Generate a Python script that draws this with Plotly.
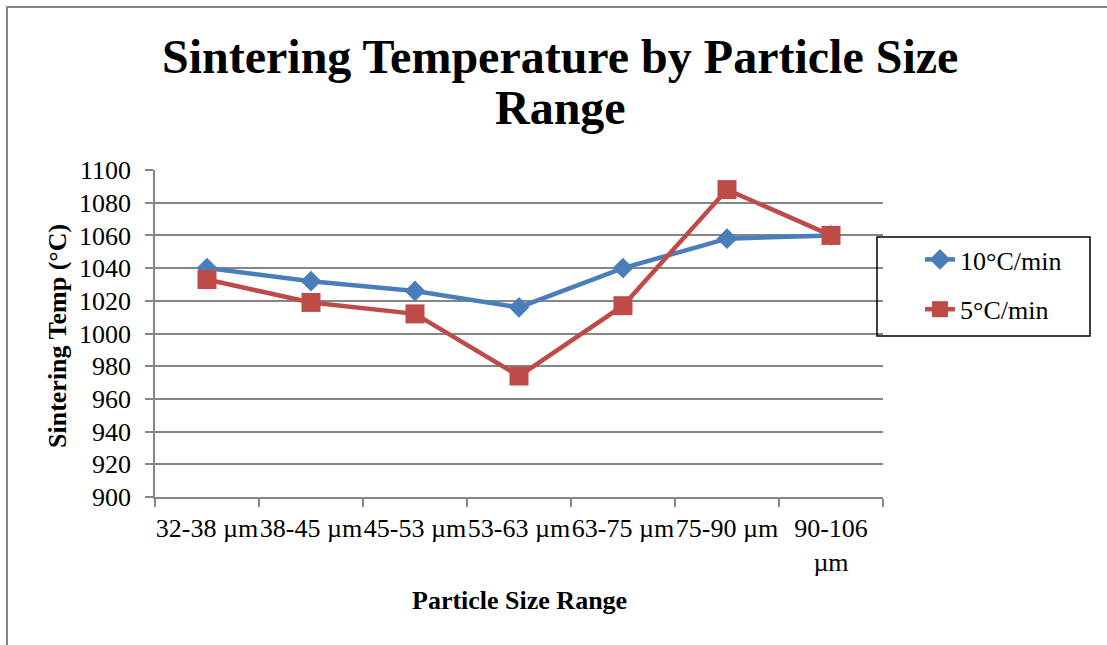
import plotly.graph_objects as go

# Particle size bins and measured sintering temperatures (°C)
size_ranges = ["32-38 µm", "38-45 µm", "45-53 µm", "53-63 µm",
               "63-75 µm", "75-90 µm", "90-106 µm"]
size_tick_labels = ["32-38 µm", "38-45 µm", "45-53 µm", "53-63 µm",
                    "63-75 µm", "75-90 µm", "90-106<br>µm"]
rate_10 = [1040, 1032, 1026, 1016, 1040, 1058, 1060]
rate_5 = [1033, 1019, 1012, 974, 1017, 1088, 1060]
y_ticks = list(range(900, 1101, 20))

W, H = 1107, 645
L, R, T, B = 155, 883, 170, 497  # plot-area pixel box


def px(x):
    return (x - L) / (R - L)


def py(y):
    return (B - y) / (B - T)


FONT = "Liberation Serif, Times New Roman, serif"
BLUE = "#4A7EBB"
RED = "#BE4B48"
GRID = "#868686"

fig = go.Figure()
fig.add_trace(go.Scatter(
    x=size_ranges, y=rate_10, name="10°C/min", mode="lines+markers",
    line=dict(color=BLUE, width=4.5),
    marker=dict(symbol="diamond", size=16, color=BLUE),
    legendgroup="a",
))
fig.add_trace(go.Scatter(
    x=size_ranges, y=rate_5, name="5°C/min", mode="lines+markers",
    line=dict(color=RED, width=4.5),
    marker=dict(symbol="square", size=19, color=RED),
    legendgroup="b",
))

fig.update_layout(
    width=W, height=H,
    margin=dict(l=L, r=W - R, t=T, b=H - B, pad=0),
    paper_bgcolor="white", plot_bgcolor="white",
    font=dict(family=FONT, size=26, color="black"),
    showlegend=True,
    legend=dict(
        x=px(920), y=py(236), xanchor="left", yanchor="top",
        bgcolor="rgba(0,0,0,0)", borderwidth=0,
        font=dict(family=FONT, size=26, color="black"),
        traceorder="grouped", tracegroupgap=13,
    ),
    xaxis=dict(
        type="category", categoryorder="array", categoryarray=size_ranges,
        range=[-0.5, len(size_ranges) - 0.5],
        tickmode="array", tickvals=size_ranges, ticktext=size_tick_labels,
        tickangle=0, ticklabelstandoff=7,
        tickson="boundaries", ticks="outside", ticklen=8, tickwidth=1.5,
        tickcolor=GRID, showgrid=False, showline=True, linecolor=GRID,
        linewidth=1.5, tickfont=dict(family=FONT, size=26, color="black"),
        zeroline=False, fixedrange=True,
    ),
    yaxis=dict(
        range=[900, 1100], tickmode="array", tickvals=y_ticks,
        ticks="outside", ticklen=8, tickwidth=1.5, tickcolor=GRID,
        showgrid=True, gridcolor=GRID, gridwidth=1.5,
        showline=True, linecolor=GRID, linewidth=1.5,
        tickfont=dict(family=FONT, size=26, color="black"),
        zeroline=False, fixedrange=True, ticklabelstandoff=9,
    ),
    shapes=[
        # outer chart frame
        dict(type="rect", xref="paper", yref="paper",
             x0=px(7), x1=px(W + 10), y0=py(H + 10), y1=py(7),
             line=dict(color=GRID, width=2), layer="below"),
        # legend frame
        dict(type="rect", xref="paper", yref="paper",
             x0=px(877), x1=px(1090), y0=py(336), y1=py(237),
             line=dict(color="black", width=1.5), fillcolor="rgba(0,0,0,0)",
             layer="above"),
    ],
    annotations=[
        dict(text="<b>Sintering Temperature by Particle Size</b>",
             xref="paper", yref="paper", x=px(560), y=py(56),
             xanchor="center", yanchor="middle", showarrow=False,
             font=dict(family=FONT, size=48, color="black")),
        dict(text="<b>Range</b>",
             xref="paper", yref="paper", x=px(560), y=py(108),
             xanchor="center", yanchor="middle", showarrow=False,
             font=dict(family=FONT, size=48, color="black")),
        dict(text="<b>Sintering Temp (°C)</b>",
             xref="paper", yref="paper", x=px(57), y=py(336),
             xanchor="center", yanchor="middle", showarrow=False,
             textangle=-90,
             font=dict(family=FONT, size=26, color="black")),
        dict(text="<b>Particle Size Range</b>",
             xref="paper", yref="paper", x=px(519), y=py(600),
             xanchor="center", yanchor="middle", showarrow=False,
             font=dict(family=FONT, size=26, color="black")),
    ],
)

fig.write_html("out.html")
